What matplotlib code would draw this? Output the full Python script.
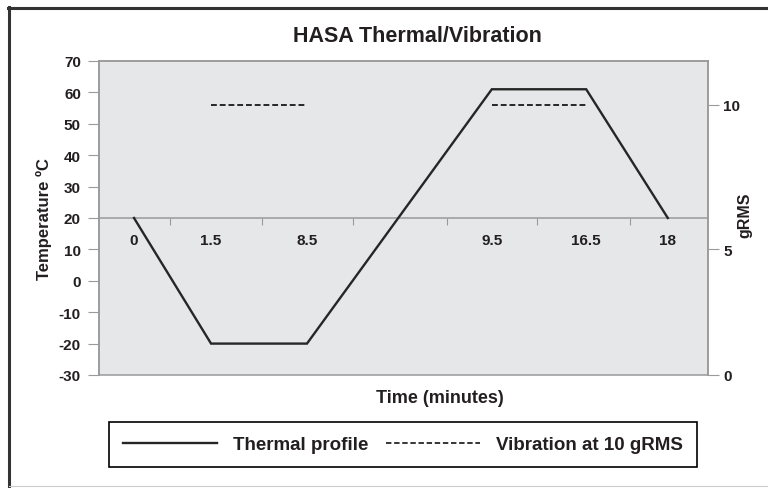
import numpy as np
import matplotlib
matplotlib.use("Agg")
import matplotlib.pyplot as plt
from matplotlib.lines import Line2D

# ===============================
# Data
# ===============================
TIME = [0, 1.5, 8.5, 9.5, 16.5, 18]
TEMP = [20, -20, -20, 61, 61, 20]
TIME_LABELS = ["0", "1.5", "8.5", "9.5", "16.5", "18"]

VIB_START = [1.5, 9.5]
VIB_END = [8.5, 16.5]
VIB_LEVEL = 10

TEMP_TICKS = list(range(-30, 71, 10))
GRMS_TICKS = [0, 5, 10]

# ===============================
# Layout: the time axis in the original is not to scale
# ===============================
X_FRAC = [0.0575, 0.184, 0.3415, 0.645, 0.800, 0.934]
TICK_FRAC = [0.1166, 0.2677, 0.417, 0.571, 0.719, 0.872]
# gRMS axis drawn by hand too: where 0 / 5 / 10 sit on the temperature scale
GRMS_ON_TEMP = [-30, 10, 56]

GRAY = "#9a9a9a"
INK = "#231f20"
LINE = "#262626"
BG = "#e6e7e8"

s0 = (X_FRAC[1] - X_FRAC[0]) / (TIME[1] - TIME[0])
s1 = (X_FRAC[-1] - X_FRAC[-2]) / (TIME[-1] - TIME[-2])
t_ext = np.array([TIME[0] - 5] + TIME + [TIME[-1] + 5])
f_ext = np.array([X_FRAC[0] - 5 * s0] + X_FRAC + [X_FRAC[-1] + 5 * s1])


def xfwd(t):
    return np.interp(t, t_ext, f_ext)


def xinv(f):
    return np.interp(f, f_ext, t_ext)


g_ext = np.array([-10] + GRMS_TICKS + [30])
gt_ext = np.array([GRMS_ON_TEMP[0] - 80] + GRMS_ON_TEMP
                  + [GRMS_ON_TEMP[-1] + 20 * (GRMS_ON_TEMP[-1] - GRMS_ON_TEMP[-2]) / 5])


def gfwd(g):
    return np.interp(g, g_ext, gt_ext)


def ginv(v):
    return np.interp(v, gt_ext, g_ext)


plt.rcParams["font.family"] = ["Liberation Sans", "DejaVu Sans"]
plt.rcParams["font.weight"] = "bold"
plt.rcParams["axes.labelweight"] = "bold"
plt.rcParams["axes.unicode_minus"] = False

fig = plt.figure(figsize=(7.68, 4.89), dpi=100)
ax = fig.add_axes([99 / 768, 1 - 376 / 489, 609 / 768, 314 / 489])
ax.set_facecolor(BG)

ax.set_xscale("function", functions=(xfwd, xinv))
ax.set_xlim(xinv(0.0), xinv(1.0))
ax.set_ylim(-30, 70)

ax.plot(TIME, TEMP, color=LINE, lw=1.7, solid_joinstyle="miter", zorder=3)

# time axis sits on the 20 degree line
ax.spines["bottom"].set_position(("data", 20))
for sp in ax.spines.values():
    sp.set_color(GRAY)
    sp.set_linewidth(1.1)

ax.set_yticks(TEMP_TICKS)
ax.tick_params(axis="y", direction="out", length=8, width=0.8, color=GRAY,
               pad=5, labelsize=11, labelcolor=INK)
ax.set_xticks(TIME, TIME_LABELS)
ax.set_xticks(xinv(np.array(TICK_FRAC)), minor=True)
ax.tick_params(axis="x", which="major", length=0, pad=11, labelsize=11, labelcolor=INK)
ax.tick_params(axis="x", which="minor", direction="out", length=5, width=0.8, color=GRAY)

ax.set_ylabel("Temperature ºC", fontsize=12, color=INK)
ax.yaxis.set_label_coords(-0.077, 0.5)
ax.set_xlabel("Time (minutes)", fontsize=13, color=INK)
ax.xaxis.set_label_coords(0.56, -0.045)

# ===============================
# gRMS axis
# ===============================
ax2 = ax.twinx()
ax2.set_yscale("function", functions=(gfwd, ginv))
ax2.set_ylim(0, ginv(70))
for s, e in zip(VIB_START, VIB_END):
    ax2.plot([s, e], [VIB_LEVEL, VIB_LEVEL], color=LINE, lw=1.4,
             linestyle=(0, (3, 1.5)), zorder=3)
for sp in ax2.spines.values():
    sp.set_color(GRAY)
    sp.set_linewidth(1.1)
ax2.set_yticks(GRMS_TICKS)
ax2.tick_params(axis="y", direction="out", length=8, width=0.8, color=GRAY,
                pad=3, labelsize=11, labelcolor=INK)
ax2.set_ylabel("gRMS", fontsize=11.5, color=INK)
ax2.yaxis.set_label_coords(1.0476, 0.513)

fig.text(417 / 768, 1 - 36 / 489, "HASA Thermal/Vibration", ha="center", va="center",
         fontsize=15.5, color=INK)

# ===============================
# Legend
# ===============================
handles = [Line2D([], [], color=LINE, lw=1.7),
           Line2D([], [], color=LINE, lw=1.3, linestyle=(0, (3, 1.5)))]
leg = fig.legend(handles, ["Thermal profile", "Vibration at 10 gRMS"],
                 loc="center", ncol=2, mode="expand",
                 bbox_to_anchor=(100 / 768, 1 - 467 / 489, 606 / 768, 43 / 489),
                 frameon=True, fancybox=False, edgecolor="black", framealpha=1,
                 handlelength=5.0, handletextpad=0.85, borderpad=0.75,
                 prop={"size": 13.5, "weight": "bold"})
leg.get_frame().set_linewidth(1.2)
for t in leg.get_texts():
    t.set_color(INK)

# page frame around the figure
fig.add_artist(Line2D([9 / 768, 9 / 768], [0, 1 - 8 / 489], transform=fig.transFigure,
                      color="#333333", lw=2.2))
fig.add_artist(Line2D([8 / 768, 1], [1 - 9 / 489, 1 - 9 / 489], transform=fig.transFigure,
                      color="#333333", lw=2.2))
fig.add_artist(Line2D([9 / 768, 1], [1 - 487 / 489, 1 - 487 / 489], transform=fig.transFigure,
                      color="#cccccc", lw=0.8))

fig.savefig("out.png", dpi=100)
